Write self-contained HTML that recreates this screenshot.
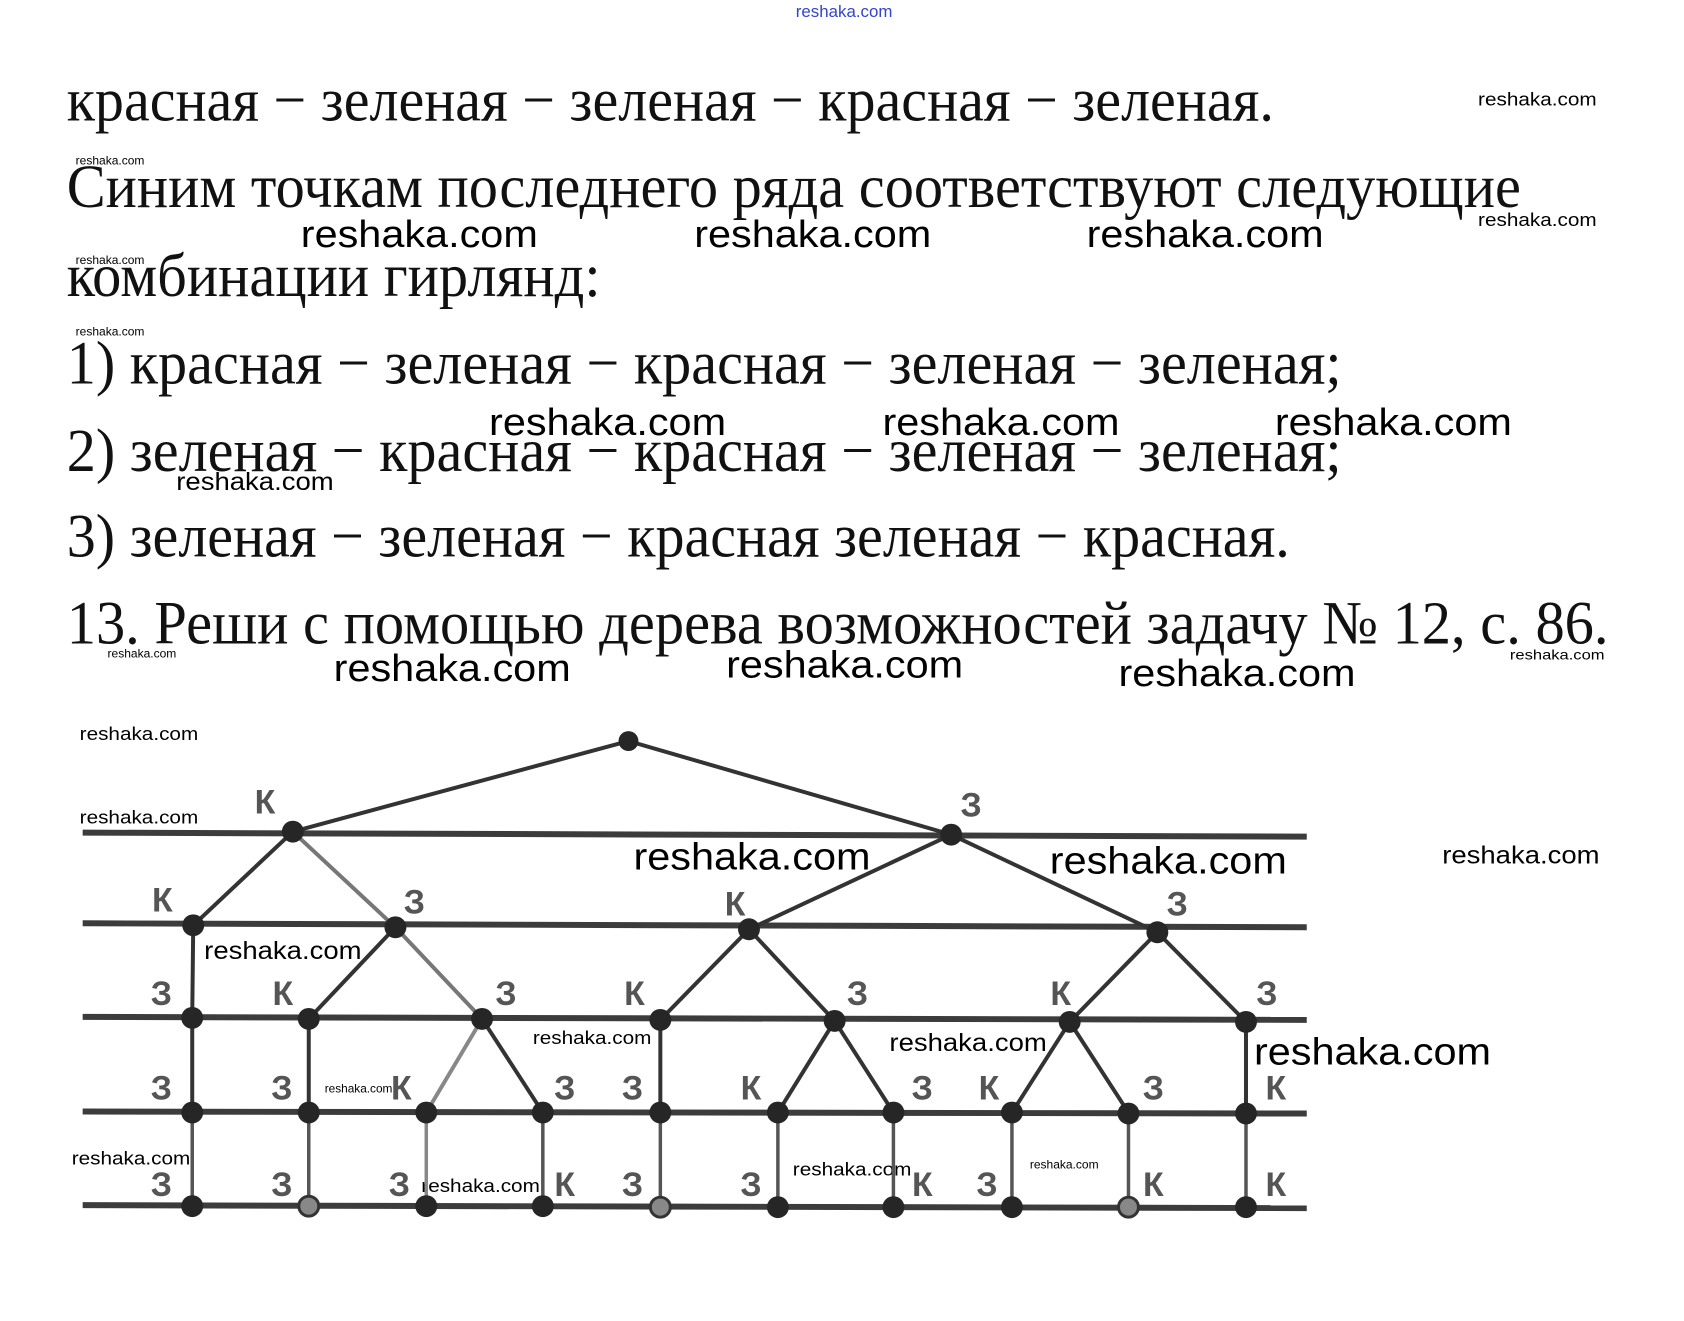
<!DOCTYPE html>
<html><head><meta charset="utf-8"><style>
html,body{margin:0;padding:0;background:#fff;}
svg{display:block;}
.t{font-family:"Liberation Serif",serif;font-size:62px;fill:#111;}
.w{font-family:"Liberation Sans",sans-serif;fill:#000;}
.l{font-family:"Liberation Sans",sans-serif;font-weight:bold;font-size:34px;fill:#555;text-anchor:middle;}
</style></head><body>
<svg width="1684" height="1321" viewBox="0 0 1684 1321" xmlns="http://www.w3.org/2000/svg">
<rect width="1684" height="1321" fill="#fff"/>
<g transform="scale(0.996)">
<text x="799" y="17" class="w" font-size="17" style="fill:#3344cc" textLength="97" lengthAdjust="spacingAndGlyphs">reshaka.com</text>

<text class="t" x="67" y="121" textLength="1212" lengthAdjust="spacingAndGlyphs">красная − зеленая − зеленая − красная − зеленая.</text>
<text class="t" x="67" y="208" textLength="1460" lengthAdjust="spacingAndGlyphs">Синим точкам последнего ряда соответствуют следующие</text>
<text class="t" x="67" y="297" textLength="536" lengthAdjust="spacingAndGlyphs">комбинации гирлянд:</text>
<text class="t" x="67" y="385" textLength="1280" lengthAdjust="spacingAndGlyphs">1) красная − зеленая − красная − зеленая − зеленая;</text>
<text class="t" x="67" y="473" textLength="1280" lengthAdjust="spacingAndGlyphs">2) зеленая − красная − красная − зеленая − зеленая;</text>
<text class="t" x="67" y="559" textLength="1228" lengthAdjust="spacingAndGlyphs">3) зеленая − зеленая − красная зеленая − красная.</text>
<text class="t" x="67" y="646" textLength="1548" lengthAdjust="spacingAndGlyphs">13. Реши с помощью дерева возможностей задачу № 12, с. 86.</text>

<g class="w" font-size="38">
<text x="302" y="248" textLength="238" lengthAdjust="spacingAndGlyphs">reshaka.com</text>
<text x="697" y="248" textLength="238" lengthAdjust="spacingAndGlyphs">reshaka.com</text>
<text x="1091" y="248" textLength="238" lengthAdjust="spacingAndGlyphs">reshaka.com</text>
<text x="491" y="437" textLength="238" lengthAdjust="spacingAndGlyphs">reshaka.com</text>
<text x="886" y="437" textLength="238" lengthAdjust="spacingAndGlyphs">reshaka.com</text>
<text x="1280" y="437" textLength="238" lengthAdjust="spacingAndGlyphs">reshaka.com</text>
<text x="335" y="684" textLength="238" lengthAdjust="spacingAndGlyphs">reshaka.com</text>
<text x="729" y="680" textLength="238" lengthAdjust="spacingAndGlyphs">reshaka.com</text>
<text x="1123" y="689" textLength="238" lengthAdjust="spacingAndGlyphs">reshaka.com</text>
<text x="636" y="873" textLength="238" lengthAdjust="spacingAndGlyphs">reshaka.com</text>
<text x="1054" y="877" textLength="238" lengthAdjust="spacingAndGlyphs">reshaka.com</text>
<text x="1259" y="1069" textLength="238" lengthAdjust="spacingAndGlyphs">reshaka.com</text>
</g>
<g class="w" font-size="25">
<text x="177" y="492" textLength="158" lengthAdjust="spacingAndGlyphs">reshaka.com</text>
<text x="1448" y="867" textLength="158" lengthAdjust="spacingAndGlyphs">reshaka.com</text>
<text x="205" y="963" textLength="158" lengthAdjust="spacingAndGlyphs">reshaka.com</text>
<text x="893" y="1055" textLength="158" lengthAdjust="spacingAndGlyphs">reshaka.com</text>
</g>
<g class="w" font-size="19">
<text x="1484" y="106" textLength="119" lengthAdjust="spacingAndGlyphs">reshaka.com</text>
<text x="1484" y="227" textLength="119" lengthAdjust="spacingAndGlyphs">reshaka.com</text>
<text x="80" y="743" textLength="119" lengthAdjust="spacingAndGlyphs">reshaka.com</text>
<text x="80" y="827" textLength="119" lengthAdjust="spacingAndGlyphs">reshaka.com</text>
<text x="535" y="1048" textLength="119" lengthAdjust="spacingAndGlyphs">reshaka.com</text>
<text x="72" y="1169" textLength="119" lengthAdjust="spacingAndGlyphs">reshaka.com</text>
<text x="796" y="1180" textLength="119" lengthAdjust="spacingAndGlyphs">reshaka.com</text>
<text x="423" y="1197" textLength="119" lengthAdjust="spacingAndGlyphs">reshaka.com</text>
</g>
<g class="w" font-size="12">
<text x="76" y="165" textLength="69" lengthAdjust="spacingAndGlyphs">reshaka.com</text>
<text x="76" y="265" textLength="69" lengthAdjust="spacingAndGlyphs">reshaka.com</text>
<text x="76" y="337" textLength="69" lengthAdjust="spacingAndGlyphs">reshaka.com</text>
<text x="108" y="660" textLength="69" lengthAdjust="spacingAndGlyphs">reshaka.com</text>
<text x="1516" y="662" font-size="14" textLength="95" lengthAdjust="spacingAndGlyphs">reshaka.com</text>
<text x="326" y="1097" textLength="68" lengthAdjust="spacingAndGlyphs">reshaka.com</text>
<text x="1034" y="1173" textLength="69" lengthAdjust="spacingAndGlyphs">reshaka.com</text>
</g>

<g stroke="#3c3c3c" stroke-width="6">
<line x1="83" y1="836" x2="1312" y2="840"/>
<line x1="83" y1="927" x2="1312" y2="931"/>
<line x1="83" y1="1021" x2="1312" y2="1024"/>
<line x1="83" y1="1116" x2="1312" y2="1118"/>
<line x1="83" y1="1210" x2="1312" y2="1213"/>
</g>

<g stroke="#333" stroke-width="4" fill="none">
<line x1="631" y1="744" x2="294" y2="835"/>
<line x1="631" y1="744" x2="955" y2="838"/>
<line x1="294" y1="835" x2="194" y2="929"/>
<line x1="294" y1="835" x2="397" y2="931" stroke="#777"/>
<line x1="955" y1="838" x2="752" y2="933"/>
<line x1="955" y1="838" x2="1162" y2="936"/>
<line x1="194" y1="929" x2="193" y2="1022"/>
<line x1="397" y1="931" x2="310" y2="1023"/>
<line x1="397" y1="931" x2="484" y2="1023" stroke="#777"/>
<line x1="752" y1="933" x2="663" y2="1024"/>
<line x1="752" y1="933" x2="838" y2="1025"/>
<line x1="1162" y1="936" x2="1074" y2="1026"/>
<line x1="1162" y1="936" x2="1251" y2="1026"/>
<line x1="193" y1="1022" x2="193" y2="1117"/>
<line x1="310" y1="1023" x2="310" y2="1117"/>
<line x1="484" y1="1023" x2="428" y2="1117" stroke="#888"/>
<line x1="484" y1="1023" x2="545" y2="1117"/>
<line x1="663" y1="1024" x2="663" y2="1117"/>
<line x1="838" y1="1025" x2="781" y2="1117"/>
<line x1="838" y1="1025" x2="897" y2="1117"/>
<line x1="1074" y1="1026" x2="1016" y2="1117"/>
<line x1="1074" y1="1026" x2="1133" y2="1117"/>
<line x1="1251" y1="1026" x2="1251" y2="1117"/>
<g stroke="#555" stroke-width="3.5">
<line x1="193" y1="1117" x2="193" y2="1212"/>
<line x1="310" y1="1117" x2="310" y2="1212"/>
<line x1="428" y1="1117" x2="428" y2="1212" stroke="#888"/>
<line x1="545" y1="1117" x2="545" y2="1212"/>
<line x1="663" y1="1117" x2="663" y2="1212"/>
<line x1="781" y1="1117" x2="781" y2="1212"/>
<line x1="897" y1="1117" x2="897" y2="1212"/>
<line x1="1016" y1="1117" x2="1016" y2="1212"/>
<line x1="1133" y1="1117" x2="1133" y2="1212"/>
<line x1="1251" y1="1118" x2="1251" y2="1212"/>
</g>
</g>

<g fill="#262626">
<circle cx="631" cy="744" r="10"/>
<circle cx="294" cy="835" r="11"/><circle cx="955" cy="838" r="11"/>
<circle cx="194" cy="929" r="11"/><circle cx="397" cy="931" r="11"/><circle cx="752" cy="933" r="11"/><circle cx="1162" cy="936" r="11"/>
<circle cx="193" cy="1022" r="11"/><circle cx="310" cy="1023" r="11"/><circle cx="484" cy="1023" r="11"/><circle cx="663" cy="1024" r="11"/><circle cx="838" cy="1025" r="11"/><circle cx="1074" cy="1026" r="11"/><circle cx="1251" cy="1026" r="11"/>
<circle cx="193" cy="1117" r="11"/><circle cx="310" cy="1117" r="11"/><circle cx="428" cy="1117" r="11"/><circle cx="545" cy="1117" r="11"/><circle cx="663" cy="1117" r="11"/><circle cx="781" cy="1117" r="11"/><circle cx="897" cy="1117" r="11"/><circle cx="1016" cy="1117" r="11"/><circle cx="1133" cy="1118" r="11"/><circle cx="1251" cy="1118" r="11"/>
<circle cx="193" cy="1211" r="11"/><circle cx="428" cy="1211" r="11"/><circle cx="545" cy="1211" r="11"/><circle cx="781" cy="1212" r="11"/><circle cx="897" cy="1212" r="11"/><circle cx="1016" cy="1212" r="11"/><circle cx="1251" cy="1212" r="11"/>
</g>
<g fill="#888" stroke="#333" stroke-width="3">
<circle cx="310" cy="1211" r="10"/><circle cx="663" cy="1212" r="10"/><circle cx="1133" cy="1212" r="10"/>
</g>

<g class="l">
<text x="266" y="817">К</text><text x="975" y="820">З</text>
<text x="163" y="915">К</text><text x="416" y="917">З</text><text x="738" y="919">К</text><text x="1182" y="919">З</text>
<text x="162" y="1009">З</text><text x="284" y="1009">К</text><text x="508" y="1009">З</text><text x="637" y="1009">К</text><text x="861" y="1009">З</text><text x="1065" y="1009">К</text><text x="1272" y="1009">З</text>
<text x="162" y="1104">З</text><text x="283" y="1104">З</text><text x="403" y="1104">К</text><text x="567" y="1104">З</text><text x="635" y="1104">З</text><text x="754" y="1104">К</text><text x="926" y="1104">З</text><text x="993" y="1104">К</text><text x="1158" y="1104">З</text><text x="1281" y="1104">К</text>
<text x="162" y="1201">З</text><text x="283" y="1201">З</text><text x="401" y="1201">З</text><text x="567" y="1201">К</text><text x="635" y="1201">З</text><text x="754" y="1201">З</text><text x="926" y="1201">К</text><text x="991" y="1201">З</text><text x="1158" y="1201">К</text><text x="1281" y="1201">К</text>
</g>
</g>
</svg>
</body></html>
